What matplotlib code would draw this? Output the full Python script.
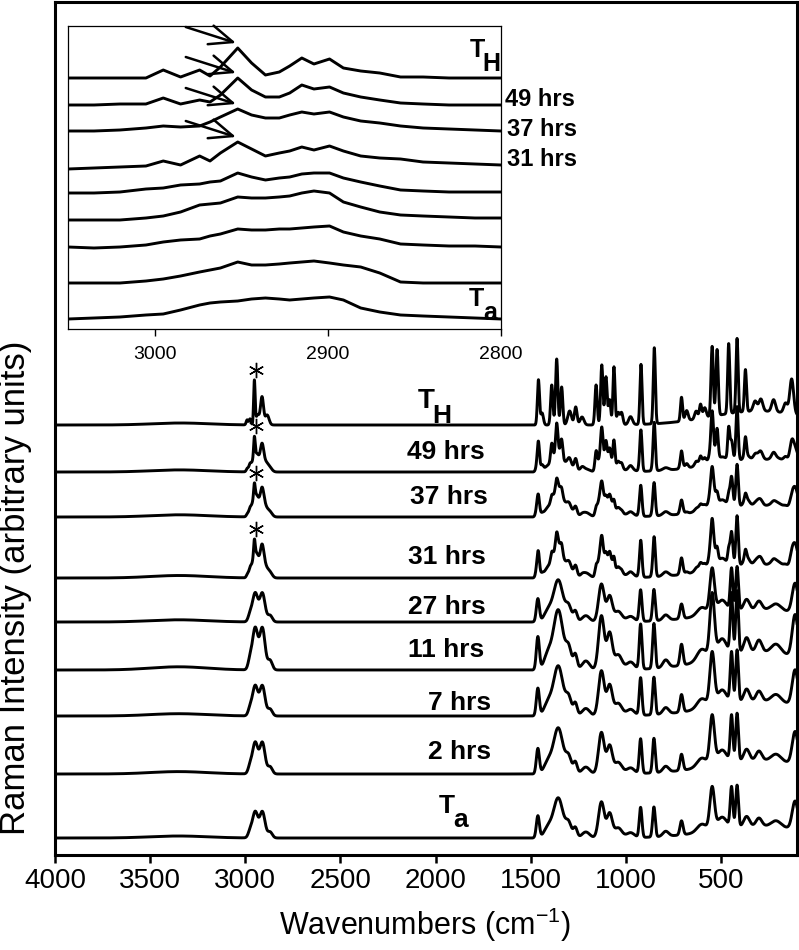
import numpy as np
import matplotlib
matplotlib.use('Agg')
import matplotlib.pyplot as plt

plt.rcParams['font.family'] = ['Liberation Sans', 'DejaVu Sans']
plt.rcParams['mathtext.fontset'] = 'custom'
plt.rcParams['mathtext.rm'] = 'Liberation Sans'
plt.rcParams['mathtext.default'] = 'regular'

W, H = 799, 950

# ---- main spectra, bottom to top ----
labels = ['Ta', '2 hrs', '7 hrs', '11 hrs', '27 hrs', '31 hrs', '37 hrs', '49 hrs', 'TH']
offsets = [17, 81, 139, 185, 233, 277, 338, 383, 430]
# weights of the ambient (amorphous) and hardened (crystalline) band sets
ch_amorph = [1.0, 1.2, 1.15, 1.6, 1.1, 0.9, 0.8, 0.6, 0.0]
ch_cryst = [0.0, 0.0, 0.0, 0.0, 0.0, 0.35, 0.3, 0.45, 1.0]
fp_amorph = [1.0, 1.15, 1.25, 1.5, 1.05, 0.85, 0.75, 0.5, 0.0]
fp_cryst = [0.0, 0.0, 0.0, 0.0, 0.0, 0.2, 0.15, 0.45, 1.0]

# ambient band set (peak position, height, width in cm-1)
am_ch_pos = [3350, 2975, 2948, 2910, 2870]
am_ch_ht = [2, 6, 26, 26, 6]
am_ch_wid = [150, 10, 14, 14, 12]
am_fp_pos = [1462, 1410, 1355, 1300, 1265, 1210, 1128, 1085, 1040, 975, 922, 852,
             790, 707, 600, 546, 495, 444, 415, 365, 300, 210, 110, 300]
am_fp_ht = [22, 10, 40, 14, 10, 6, 36, 24, 10, 5, 30, 30,
            5, 14, 8, 42, 12, 40, 42, 10, 8, 6, 28, 12]
am_fp_wid = [8, 20, 25, 15, 10, 20, 15, 14, 20, 20, 7, 7,
             15, 8, 25, 12, 25, 7, 7, 15, 15, 25, 15, 250]

# hardened band set
cr_ch_pos = [3340, 2990, 2975, 2952, 2935, 2912, 2885]
cr_ch_ht = [2, 5, 6, 44, 10, 28, 10]
cr_ch_wid = [150, 5, 5, 4, 8, 8, 10]
cr_fp_pos = [1459, 1440, 1389, 1363, 1337, 1295, 1263, 1230, 1156, 1126, 1104, 1085,
             1062, 1040, 1022, 975, 920, 850, 707, 680, 630, 607, 585, 546, 520,
             459, 415, 371, 320, 290, 223, 160, 128, 300]
cr_fp_ht = [45, 12, 40, 66, 38, 14, 18, 8, 40, 60, 48, 25,
            58, 12, 12, 8, 60, 76, 24, 10, 8, 14, 10, 70, 66,
            70, 74, 42, 10, 12, 12, 10, 35, 14]
cr_fp_wid = [5.5, 7, 6, 6, 6, 10, 7, 10, 6, 6, 6, 6,
             5.5, 7, 7, 10, 5.5, 5.5, 5.5, 8, 8, 6, 8, 6, 6,
             5.5, 5.5, 5.5, 10, 10, 10, 10, 10, 250]

asterisk_traces = ['31 hrs', '37 hrs', '49 hrs', 'TH']

# ---- inset (C-H stretching region) ----
inset_wn = [3050, 3035, 3020, 3005, 2995, 2985, 2974, 2968, 2962, 2952, 2944, 2936, 2928,
            2922, 2915, 2908, 2899, 2891, 2881, 2870, 2858, 2845, 2830, 2815, 2800]
inset_offsets = [10, 46, 82, 109, 136, 160, 198, 224, 251]
inset_ta = [0, 1, 2, 4, 5, 9, 14, 16, 17, 18, 20, 21, 20, 19, 20, 21, 22, 19, 11, 7, 4, 3, 2, 1, 0]
inset_2h = [0, 0, 0, 2, 4, 7, 11, 13, 15, 21, 18, 18, 19, 20, 21, 22, 20, 18, 16, 10, 1, 0, 0, 0, 0]
inset_7h = [0, -1, 0, 2, 5, 7, 8, 11, 13, 18, 17, 17, 18, 18, 19, 20, 21, 15, 11, 8, 3, 2, 1, 1, 0]
inset_11h = [0, 0, 0, 2, 4, 8, 15, 16, 17, 23, 22, 22, 23, 24, 27, 29, 27, 18, 13, 8, 5, 4, 3, 2, 2]
inset_27h = [0, 0, 1, 4, 5, 8, 9, 11, 12, 20, 16, 13, 15, 16, 19, 20, 20, 15, 11, 7, 3, 2, 1, 1, 1]
inset_31h = [0, 1, 2, 3, 8, 4, 13, 8, 16, 27, 20, 13, 16, 18, 22, 19, 23, 18, 13, 11, 10, 7, 6, 5, 4]
inset_37h = [0, 0, 1, 3, 5, 4, 5, 9, 14, 22, 16, 13, 13, 16, 19, 17, 19, 14, 10, 8, 5, 3, 2, 1, 0]
inset_49h = [0, 0, 1, 1, 7, 1, 5, 3, 10, 27, 15, 8, 8, 12, 20, 16, 18, 12, 8, 5, 2, 1, 0, 0, 0]
inset_th = [0, 0, 0, 0, 8, 1, 8, 2, 11, 30, 15, 3, 6, 12, 20, 14, 19, 10, 7, 5, 1, 1, 0, 0, 0]
inset_traces = [inset_ta, inset_2h, inset_7h, inset_11h, inset_27h,
                inset_31h, inset_37h, inset_49h, inset_th]
arrow_traces = [5, 6, 7, 8]


def bands(x, pos, ht, wid):
    y = np.zeros_like(x)
    for p, h, w in zip(pos, ht, wid):
        y += h * np.exp(-(x - p) ** 2 / (2.0 * w ** 2))
    return y


def px(x, y):
    return x / W, 1 - y / H


fig = plt.figure(figsize=(W / 100, H / 100), dpi=100)
ax = fig.add_axes([55 / W, 95 / H, 742 / W, 853 / H])

wn = np.arange(4000, 99, -1.0)
am_ch = bands(wn, am_ch_pos, am_ch_ht, am_ch_wid)
am_fp = bands(wn, am_fp_pos, am_fp_ht, am_fp_wid)
cr_ch = bands(wn, cr_ch_pos, cr_ch_ht, cr_ch_wid)
cr_fp = bands(wn, cr_fp_pos, cr_fp_ht, cr_fp_wid)

for i, lab in enumerate(labels):
    spec = (offsets[i] + ch_amorph[i] * am_ch + ch_cryst[i] * cr_ch
            + fp_amorph[i] * am_fp + fp_cryst[i] * cr_fp)
    ax.plot(wn, spec, color='black', lw=2.1)
    if lab in asterisk_traces:
        sel = (wn < 2960) & (wn > 2940)
        ax.plot(2945, spec[sel].max() + 10, marker=(6, 2, 0), ms=11,
                color='black', mew=1.0)

ax.set_xlim(4000, 100)
ax.set_ylim(0, 853)
ax.set_yticks([])
ax.set_xticks([4000, 3500, 3000, 2500, 2000, 1500, 1000, 500])
ax.tick_params(axis='x', direction='out', length=6, width=1.8, labelsize=20, pad=3)
for s in ax.spines.values():
    s.set_linewidth(2.2)

# trace labels in the main panel
bold = dict(fontsize=19, fontweight='bold', va='center', ha='left')
main_labels = [('49 hrs', 407, 452), ('37 hrs', 410, 497), ('31 hrs', 408, 557),
               ('27 hrs', 408, 607), ('11 hrs', 408, 650), ('7 hrs', 428, 703),
               ('2 hrs', 428, 752)]
for t, x, y in main_labels:
    fig.text(*px(x, y), t, **bold)
fig.text(*px(426, 401), 'T', fontsize=20, fontweight='bold', ha='center', va='center')
fig.text(*px(442, 416), 'H', fontsize=19, fontweight='bold', ha='center', va='center')
fig.text(*px(447, 806), 'T', fontsize=19, fontweight='bold', ha='center', va='center')
fig.text(*px(461, 820), 'a', fontsize=19, fontweight='bold', ha='center', va='center')

fig.text(*px(425, 925), 'Wavenumbers (cm$^{-1}$)', fontsize=22, ha='center', va='center')
fig.text(*px(16, 588), 'Raman Intensity (arbitrary units)', fontsize=25,
         rotation=90, ha='center', va='center')

# ---- inset ----
axi = fig.add_axes([68 / W, 621 / H, 433 / W, 303 / H])
for i, tr in enumerate(inset_traces):
    yv = [inset_offsets[i] + v for v in tr]
    axi.plot(inset_wn, yv, color='black', lw=2.1)
for i in arrow_traces:
    peak = inset_offsets[i] + inset_traces[i][inset_wn.index(2952)]
    axi.annotate('', xy=(2953, peak + 5), xytext=(2982, peak + 21),
                 arrowprops=dict(arrowstyle='->,head_length=0.6,head_width=0.25',
                                 lw=1.8, mutation_scale=28,
                                 color='black', shrinkA=0, shrinkB=0))
axi.set_xlim(3050, 2800)
axi.set_ylim(0, 303)
axi.set_yticks([])
axi.set_xticks([3000, 2900, 2800])
axi.tick_params(axis='x', direction='out', length=5, width=1.0, labelsize=14, pad=7)
for s in axi.spines.values():
    s.set_linewidth(0.9)

ib = dict(fontsize=17, fontweight='bold', va='center', ha='left')
fig.text(*px(505, 100), '49 hrs', **ib)
fig.text(*px(507, 130), '37 hrs', **ib)
fig.text(*px(507, 160), '31 hrs', **ib)
fig.text(*px(477, 50), 'T', fontsize=18, fontweight='bold', ha='center', va='center')
fig.text(*px(491, 64), 'H', fontsize=18, fontweight='bold', ha='center', va='center')
fig.text(*px(476, 299), 'T', fontsize=18, fontweight='bold', ha='center', va='center')
fig.text(*px(490, 313), 'a', fontsize=18, fontweight='bold', ha='center', va='center')

fig.savefig('out.png', dpi=100)
